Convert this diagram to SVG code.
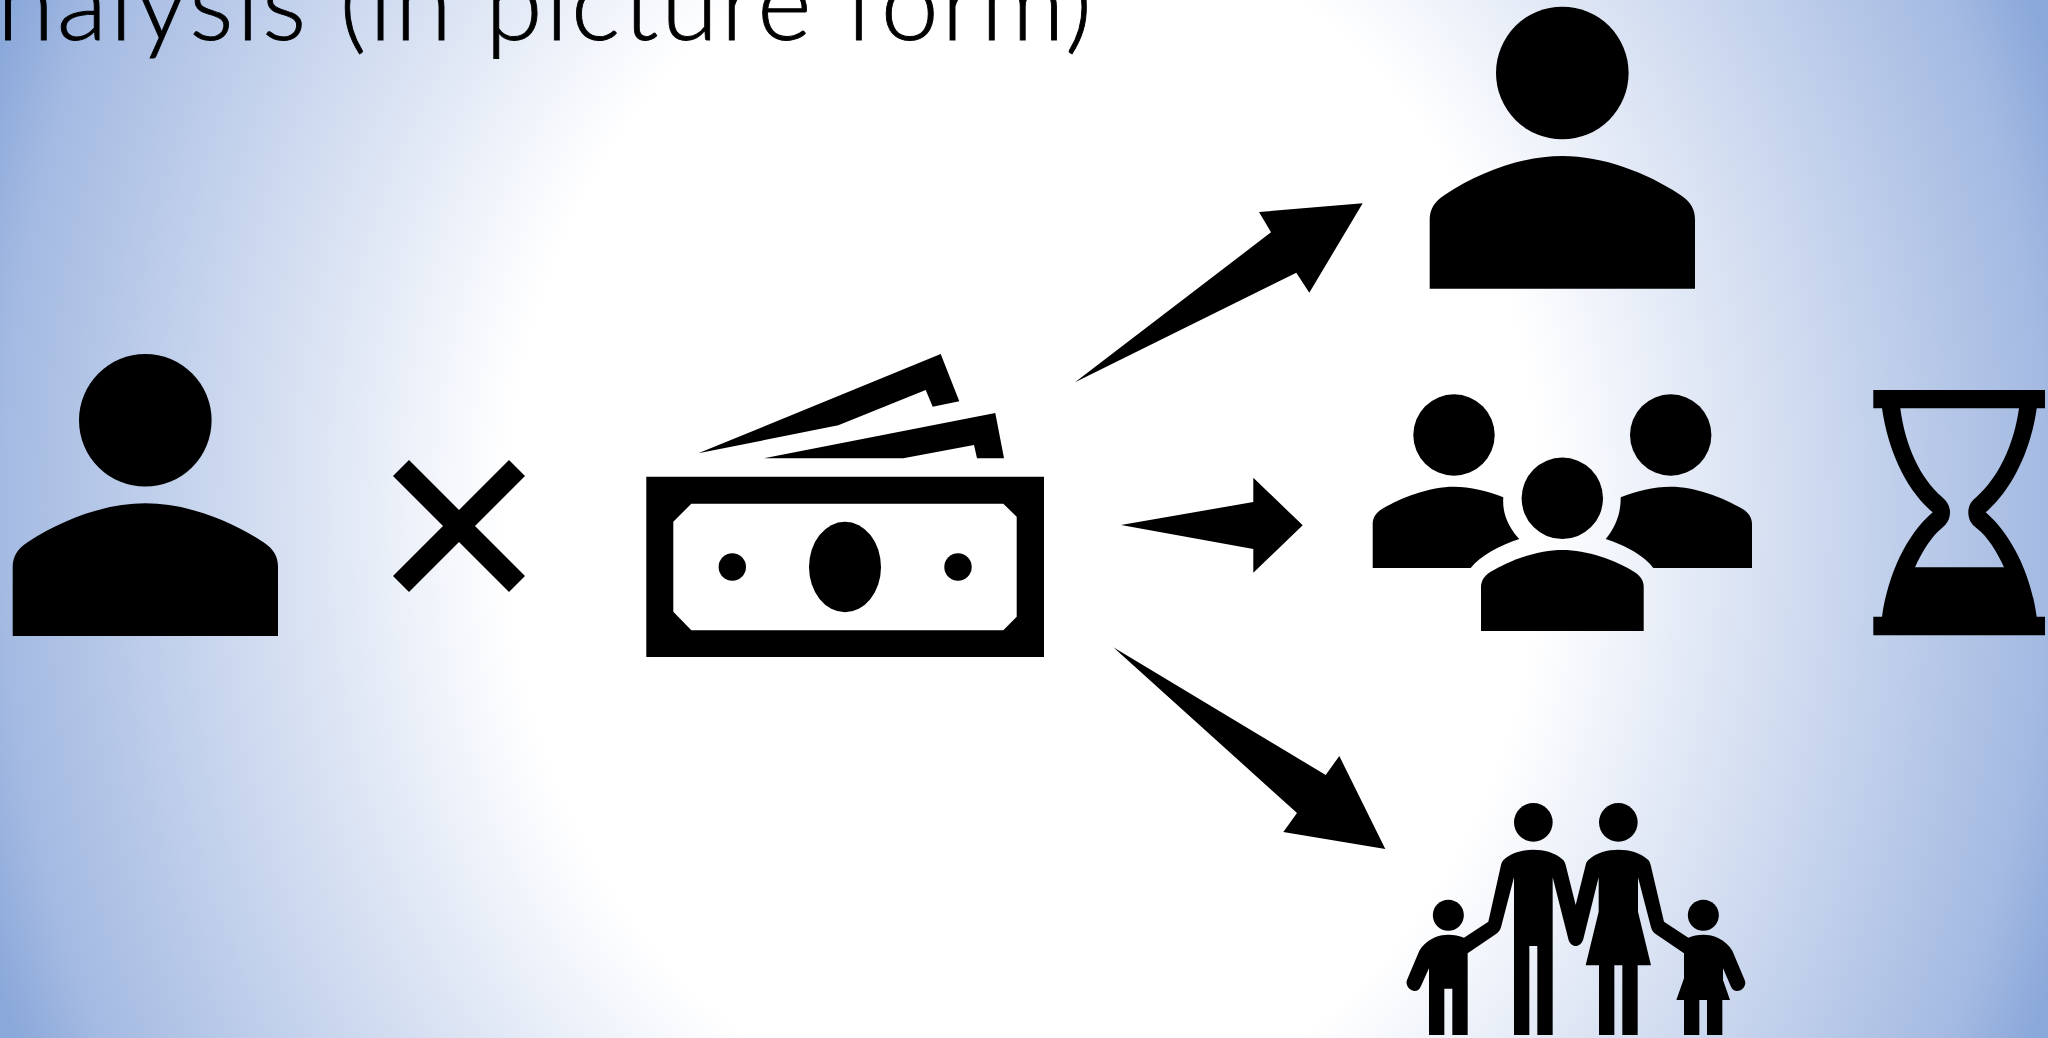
<svg xmlns="http://www.w3.org/2000/svg" width="2048" height="1038" viewBox="0 0 2048 1038">
<style>
.title{font-family:"Lato","Liberation Sans",sans-serif;font-weight:300;font-size:104px;fill:#000;stroke:#000;stroke-width:.9px}
.ink{fill:#000;stroke:none}
</style>
<defs>
<radialGradient id="bg" gradientUnits="userSpaceOnUse" cx="0" cy="0" r="1" gradientTransform="translate(1024 519) scale(1100 1300)">
<stop offset="0" stop-color="#fff"/>
<stop offset="0.47" stop-color="#fff"/>
<stop offset="0.93" stop-color="#A4BAE2"/>
<stop offset="1.01" stop-color="#8AA8DA"/>
</radialGradient>
<g id="person">
<circle cx="145.3" cy="420.3" r="66.3"/>
<path d="M12.7 636V566.7C12.7 557 17 549 28.3 541.7C62 519.7 105 503.3 145.3 503.3C186 503.3 229 519.7 262.7 541.7C274 549 278 557 278 566.7V636Z"/>
</g>
</defs>
<rect id="background" width="2048" height="1038" fill="url(#bg)"/>
<text id="title" class="title" x="-3" y="40" textLength="1095" lengthAdjust="spacing">nalysis (in picture form)</text>
<g id="payer" class="ink"><use href="#person"/></g>
<path id="times" class="ink" d="M393 476L409 460L459 510L509 460L525 476L475 526L525 576L509 592L459 542L409 592L393 576L443 526Z"/>
<g id="money" class="ink">
<path fill-rule="evenodd" d="M646.3 476.7H1044V657H646.3ZM691.3 503.7L673.3 521.7V611.7L691.3 630.3H1003.3L1016.7 616.7V516.7L1003.3 503.7Z"/>
<circle cx="732.3" cy="567" r="13.7"/>
<circle cx="958" cy="567" r="13.7"/>
<ellipse cx="845" cy="567" rx="36" ry="45.3"/>
<path d="M698.3 453.3L940.7 354L959.3 401.3L932.7 406.7L925.7 390L838.3 425.3Z"/>
<path d="M764 458.3L995.3 413L1004 458.3H977L974 445L903.3 458.3Z"/>
</g>
<g id="connectors" class="ink">
<path d="M1075 382.3L1271 232.3L1259 212L1362.7 203.3L1309.3 292.7L1296.3 272.7Z"/>
<path d="M1121 525L1253.3 502V477.7L1302.7 525.3L1253.3 572.7V549Z"/>
<path d="M1113.3 647.3L1325.7 775L1339.3 756L1385.3 849L1283.3 832L1297 813Z"/>
</g>
<g id="one-person" class="ink"><use href="#person" transform="translate(1417 -347.3)"/></g>
<g id="group" class="ink">
<circle cx="1454" cy="435" r="40.7"/>
<circle cx="1670.7" cy="435" r="40.7"/>
<circle cx="1562.3" cy="498.3" r="40.7"/>
<path d="M1372.7 568V524C1372.7 518 1375.5 513 1382 509C1402 497 1430 486.7 1454 486.7C1470 486.7 1488 491 1503.3 497.3C1502 514 1509 528 1519.3 539C1500 545 1480 556 1470.7 568Z"/>
<path d="M1752 568V524C1752 518 1749 513 1742.7 509C1722 497 1695 486.7 1670.7 486.7C1653 486.7 1637 491 1620.7 497.3C1621 514 1615 528 1605.7 539C1625 545 1645 556 1653.3 568Z"/>
<path d="M1481 631V587C1481 581 1484 576 1490.3 572C1510 560 1538 550 1562.3 550C1587 550 1615 560 1634.4 572C1640.7 576 1643.7 581 1643.7 587V631Z"/>
</g>
<g id="hourglass" class="ink">
<path fill-rule="evenodd" d="M1873.3 390H2045V408.3H2036.7C2031 450 2012 490 1985.7 512.3C2012 535 2031 575 2036.7 616.7H2045V635.3H1873.3V616.7H1882C1888 575 1906 535 1932.7 512.3C1906 490 1888 450 1882 408.3H1873.3ZM1900.3 408.3C1905 445 1920 478 1941.7 496.7C1947 501 1950 506 1950 512.3C1950 519 1947 524 1941.7 528.3C1931 537 1922 552 1915 567.3H2004C1997 552 1988 537 1976.7 528.3C1971 524 1968.3 519 1968.3 512.3C1968.3 506 1971 501 1976.7 496.7C1998 478 2014 445 2019 408.3Z"/>
</g>
<g id="family" class="ink" transform="translate(1360 780) scale(.33333)">
<circle cx="520" cy="127" r="58"/>
<circle cx="775" cy="127" r="58"/>
<circle cx="265" cy="406" r="46.5"/>
<circle cx="1030" cy="406" r="46.5"/>
<path d="M312 473C285 461 245 461 222 473C200 484 187 497 178 512L141 600C132 625 170 648 182 620L207 565V765H253V626H277V765H323V520L408 462C415 457 420 452 423 442L462 292V765H508V498H532V765H578V292L625 477C632 505 662 505 670 477L716 292V395L677 556H717V765H763V556H787V765H833V556H873L834 395V292L873 442C876 452 880 457 887 462L972 520V595L949 660H972V765H1018V660H1041V765H1087V660H1110L1089 600V565L1113 620C1125 648 1165 625 1154 600L1117 512C1108 497 1095 484 1073 473C1050 461 1010 461 985 473L912 425L872 255C869 245 868 243 862 238C820 200 730 200 688 238C682 243 680 245 677 255L647 375L617 255C614 245 612 243 607 238C565 200 475 200 433 238C428 243 426 245 423 255L385 425Z"/>
</g>
</svg>
